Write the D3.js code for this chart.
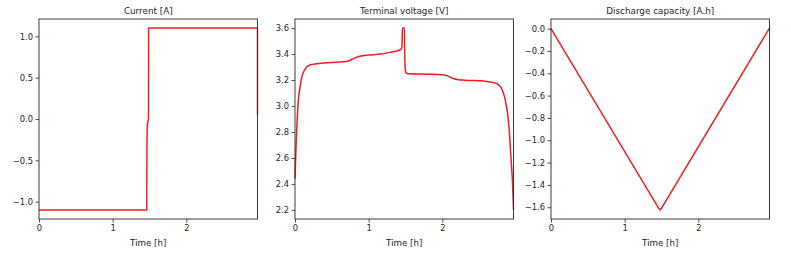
<!DOCTYPE html>
<html>
<head>
<meta charset="utf-8">
<script src="https://cdn.jsdelivr.net/npm/d3@7"></script>
<style>
  html, body { margin: 0; padding: 0; background: #fff; }
  svg { display: block; }
  text { font-family: "DejaVu Sans", sans-serif; fill: #262626; }
</style>
</head>
<body>
<svg id="chart" width="791" height="256"></svg>
<script>
// ---- data ----
const panelTitles = ["Current [A]", "Terminal voltage [V]", "Discharge capacity [A.h]"];
const xLabel = "Time [h]";
const timeMax = 2.966;
const xTicks = [0, 1, 2];

const currentTime = [0, 1.463, 1.465, 1.468, 1.474, 1.480, 1.486, 1.488, 2.966, 2.966];
const currentVals = [-1.1, -1.1, -0.35, -0.12, -0.05, -0.02, -0.005, 1.1, 1.1, 0.05];
const currentTicks = [-1.0, -0.5, 0.0, 0.5, 1.0];

const voltageTime = [0, 0.010, 0.023, 0.045, 0.070, 0.091, 0.136, 0.205, 0.300, 0.400, 0.550, 0.700, 0.750, 0.800, 0.880, 1.000, 1.160, 1.300, 1.400, 1.440, 1.452, 1.458, 1.485, 1.490, 1.495, 1.510, 1.540, 1.800, 2.000, 2.080, 2.150, 2.220, 2.300, 2.570, 2.700, 2.760, 2.800, 2.840, 2.870, 2.890, 2.910, 2.925, 2.940, 2.950, 2.958, 2.966];
const voltageVals = [2.44, 2.62, 2.81, 3.04, 3.15, 3.22, 3.283, 3.318, 3.326, 3.332, 3.337, 3.343, 3.352, 3.367, 3.383, 3.392, 3.400, 3.415, 3.428, 3.438, 3.46, 3.60, 3.60, 3.40, 3.29, 3.255, 3.248, 3.245, 3.240, 3.230, 3.212, 3.203, 3.199, 3.192, 3.180, 3.165, 3.140, 3.080, 3.000, 2.920, 2.800, 2.660, 2.530, 2.440, 2.330, 2.200];
const voltageTicks = [2.2, 2.4, 2.6, 2.8, 3.0, 3.2, 3.4, 3.6];

const capacityTime = [0, 1.465, 1.487, 2.966];
const capacityVals = [0, -1.612, -1.624, 0.005];
const capacityTicks = [-1.6, -1.4, -1.2, -1.0, -0.8, -0.6, -0.4, -0.2, 0.0];

// ---- layout ----
const svg = d3.select("#chart");
const panelLefts = [39, 295, 551];
const panelW = 218.5, panelTop = 19, panelH = 200;
const lineColor = "#f01e1e";

const panels = [
  { t: currentTime, v: currentVals, ticks: currentTicks, curve: d3.curveLinear },
  { t: voltageTime, v: voltageVals, ticks: voltageTicks, curve: d3.curveMonotoneX },
  { t: capacityTime, v: capacityVals, ticks: capacityTicks, curve: d3.curveLinear }
];

panels.forEach((p, i) => {
  const g = svg.append("g").attr("transform", `translate(${panelLefts[i]},${panelTop})`);
  const x = d3.scaleLinear().domain([0, timeMax]).range([0, panelW]);
  const [lo, hi] = d3.extent(p.v);
  const pad = (hi - lo) * 0.05;
  const y = d3.scaleLinear().domain([lo - pad, hi + pad]).range([panelH, 0]);

  const pts = p.t.map((t, k) => [t, p.v[k]]);
  const line = d3.line().x(d => x(d[0])).y(d => y(d[1])).curve(p.curve);

  g.append("defs").append("clipPath").attr("id", "clip" + i)
    .append("rect").attr("x", -1).attr("y", 0).attr("width", panelW + 2).attr("height", panelH);

  g.append("path").datum(pts)
    .attr("clip-path", `url(#clip${i})`)
    .attr("d", line)
    .attr("fill", "none")
    .attr("stroke", lineColor)
    .attr("stroke-width", 1.5)
    .attr("stroke-linejoin", "round");

  // axes
  const xAxis = d3.axisBottom(x).tickValues(xTicks).tickFormat(d3.format("d")).tickSize(3.5).tickPadding(2.5);
  const yAxis = d3.axisLeft(y).tickValues(p.ticks).tickFormat(d3.format(".1f")).tickSize(3.5).tickPadding(2.5);

  const gx = g.append("g").attr("transform", `translate(0,${panelH})`).call(xAxis);
  const gy = g.append("g").call(yAxis);
  [gx, gy].forEach(a => {
    a.select(".domain").remove();
    a.selectAll(".tick line").attr("stroke", "#262626").attr("stroke-width", 0.8);
    a.selectAll(".tick text").attr("font-size", 8.4).attr("font-family", "DejaVu Sans").attr("fill", "#262626");
  });

  // frame
  g.append("rect").attr("x", 0).attr("y", 0).attr("width", panelW).attr("height", panelH)
    .attr("fill", "none").attr("stroke", "#262626").attr("stroke-width", 0.9);

  // title
  g.append("text").attr("x", panelW / 2).attr("y", -5.5)
    .attr("text-anchor", "middle").attr("font-size", 8.8).text(panelTitles[i]);

  // x label
  g.append("text").attr("x", panelW / 2).attr("y", panelH + 26.5)
    .attr("text-anchor", "middle").attr("font-size", 8.7).text(xLabel);
});
</script>
</body>
</html>
